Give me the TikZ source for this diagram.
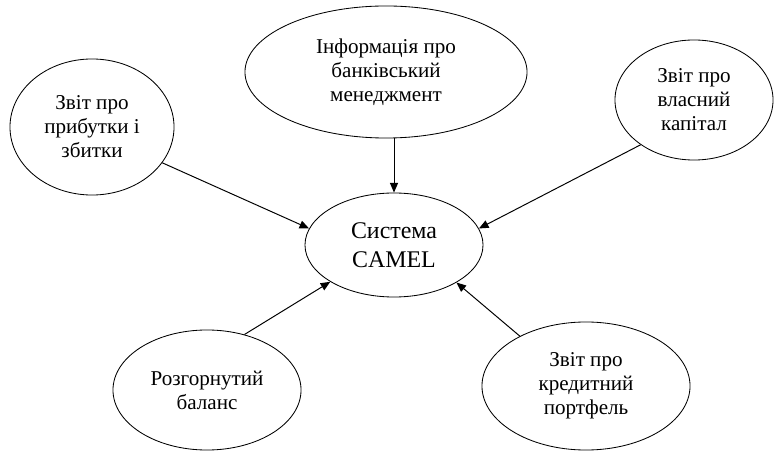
\documentclass[tikz,border=0pt]{standalone}
\usepackage{fontspec}
\setmainfont{Liberation Serif}
\usetikzlibrary{shapes.geometric,arrows.meta}
\tikzset{
  src/.style={ellipse, draw, line width=0.6pt, inner sep=0pt, align=center,
    font=\fontsize{15}{17}\selectfont},
  arr/.style={line width=0.7pt, -{Triangle[length=2.4mm,width=2mm]}}
}
\begin{document}
\begin{tikzpicture}[x=0.025cm, y=-0.025cm]
    \useasboundingbox (0,0) rectangle (774,451);
    \node[src, minimum width=4.1cm, minimum height=3.4cm] (pnl) at (92,127) {Звіт про\\прибутки і\\збитки};
    \node[src, minimum width=7.05cm, minimum height=3.3cm] (mgmt) at (386,72) {Інформація про\\банківський\\менеджмент};
    \node[src, minimum width=3.95cm, minimum height=3cm] (kap) at (694,100) {Звіт про\\власний\\капітал};
    \node[src, minimum width=4.45cm, minimum height=2.6cm, font=\fontsize{17}{21}\selectfont] (camel) at (394,245) {Система\\CAMEL};
    \node[src, minimum width=4.7cm, minimum height=3cm] (bal) at (207,390) {Розгорнутий\\баланс};
    \node[src, minimum width=5.2cm, minimum height=3.2cm] (kred) at (586,386) {Звіт про\\кредитний\\портфель};

    \draw[arr] (pnl.-27) -- (camel.169);
    \draw[arr] (camel.north |- mgmt.south) -- (camel.north);
    \draw[arr] (kap.220) -- (camel.11);
    \draw[arr] (bal.56) -- (camel.210);
    \draw[arr] (kred.143) -- (camel.-31);
\end{tikzpicture}
\end{document}
